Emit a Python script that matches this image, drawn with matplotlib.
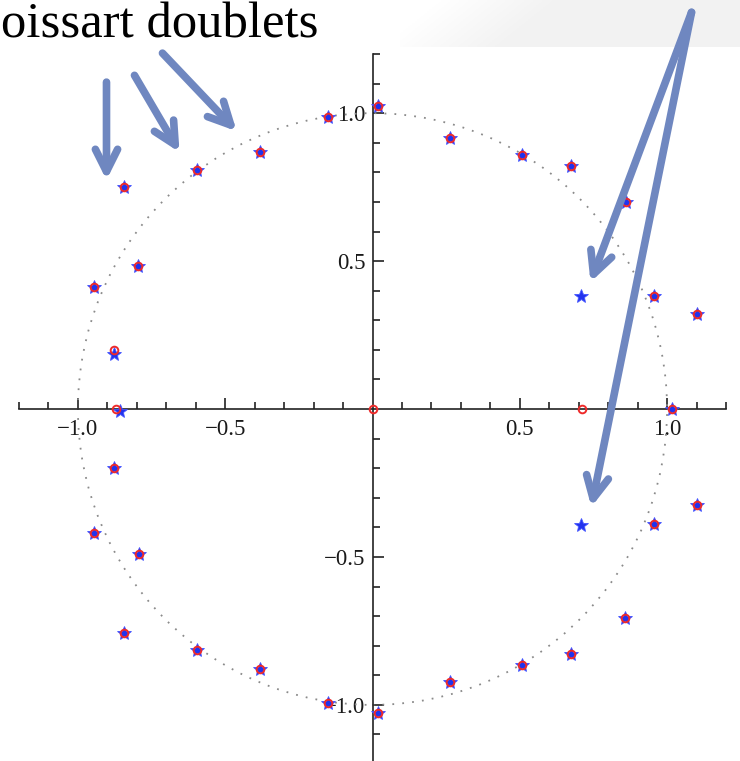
import numpy as np
import matplotlib
matplotlib.use("Agg")
import matplotlib.pyplot as plt
from matplotlib.patches import Circle
from matplotlib.ticker import FixedLocator, FixedFormatter


# blue stars
star_x = [0.019, 0.264, 0.508, 0.675, 0.859, 0.709, 0.954, 1.100, 1.015,
          -0.151, -0.383, -0.597, -0.845, -0.797, -0.947, -0.876, -0.856,
          -0.876, -0.947, -0.794, -0.845, -0.597, -0.383, -0.151,
          1.100, 0.709, 0.954, 0.856, 0.675, 0.508, 0.264, 0.019]
star_y = [1.024, 0.916, 0.858, 0.821, 0.700, 0.382, 0.382, 0.321, 0.000,
          0.986, 0.868, 0.807, 0.750, 0.483, 0.412, 0.186, -0.005,
          -0.200, -0.419, -0.490, -0.757, -0.814, -0.878, -0.993,
          -0.324, -0.392, -0.389, -0.706, -0.828, -0.865, -0.922, -1.027]

# red open circles
circle_x = [0.019, 0.264, 0.508, 0.675, 0.859, 0.954, 1.100, 1.015,
            -0.151, -0.383, -0.597, -0.845, -0.797, -0.947, -0.876, -0.872,
            -0.876, -0.947, -0.794, -0.845, -0.597, -0.383, -0.151,
            1.100, 0.954, 0.856, 0.675, 0.508, 0.264, 0.019,
            0.000, 0.712]
circle_y = [1.024, 0.916, 0.858, 0.821, 0.700, 0.382, 0.321, 0.000,
            0.986, 0.868, 0.807, 0.750, 0.483, 0.412, 0.199, 0.000,
            -0.200, -0.419, -0.490, -0.757, -0.814, -0.878, -0.993,
            -0.324, -0.389, -0.706, -0.828, -0.865, -0.922, -1.027,
            0.000, 0.000]

# arrows: tail -> head
arrow_tails = [(-0.903, 1.105), (-0.808, 1.128), (-0.713, 1.203),
               (1.083, 1.341), (1.083, 1.341)]
arrow_heads = [(-0.903, 0.774), (-0.655, 0.868), (-0.461, 0.939),
               (0.740, 0.429), (0.743, -0.331)]

major_ticks = [-1.0, -0.5, 0.5, 1.0]
major_labels = ["\u22121.0", "\u22120.5", "0.5", "1.0"]
minor_ticks = [-1.2, -1.1, -0.9, -0.8, -0.7, -0.6, -0.4, -0.3, -0.2, -0.1,
               0.1, 0.2, 0.3, 0.4, 0.6, 0.7, 0.8, 0.9, 1.1, 1.2]

title = "oissart doublets"

arrow_col = "#6f87c0"

fig = plt.figure(figsize=(7.4, 7.61), dpi=100)

# light grey banner top right
bg = fig.add_axes([400 / 740, 1 - 47 / 761, 340 / 740, 47 / 761])
gx, gy = np.meshgrid(np.linspace(0, 1, 200), np.linspace(0, 1, 20))
alpha = np.clip((gx * 340 - 40 + gy * 47 * 1.2) / 120, 0, 1)
img = np.zeros((20, 200, 4))
img[..., :3] = 0.95
img[..., 3] = alpha
bg.imshow(img, aspect="auto", extent=[0, 1, 0, 1], origin="upper")
bg.axis("off")

fig.text(0.002, 1 - 37 / 761, title, ha="left", va="baseline",
         fontsize=36.5, family="Liberation Serif")

ax = fig.add_axes([19 / 740, -0.004, 707 / 740, 0.933])
ax.set_xlim(-1.2, 1.2)
ax.set_ylim(-1.2, 1.2)
ax.patch.set_alpha(0)

for side in ["top", "right"]:
    ax.spines[side].set_visible(False)
for side in ["left", "bottom"]:
    ax.spines[side].set_position("zero")
    ax.spines[side].set_linewidth(1.2)
    ax.spines[side].set_color("#222222")

for axis in [ax.xaxis, ax.yaxis]:
    axis.set_major_locator(FixedLocator(major_ticks))
    axis.set_major_formatter(FixedFormatter(major_labels))
    axis.set_minor_locator(FixedLocator(minor_ticks))

ax.tick_params(which="both", direction="in", width=1.2, color="#222222",
               labelsize=16.5, labelfontfamily="Liberation Serif",
               labelcolor="#1a1a1a")
ax.tick_params(which="major", length=8)
ax.tick_params(which="minor", length=5)
ax.tick_params(axis="x", pad=7)
ax.tick_params(axis="y", pad=5)

ax.add_patch(Circle((0, 0), 1.0, fill=False, ls=(0, (1, 4.5)), lw=1.3,
                    color="#8a8a8a", zorder=2))

ax.plot(star_x, star_y, ls="none", marker="*", ms=10, color="#2233ee",
        mec="#4455ff", mew=0.6, zorder=3, clip_on=False)
ax.plot(circle_x, circle_y, ls="none", marker="o", ms=5.5, mfc="none",
        mec="#ee2a2a", mew=1.4, zorder=4, clip_on=False)

for tail, head in zip(arrow_tails, arrow_heads):
    ax.annotate("", xy=head, xytext=tail, annotation_clip=False,
                arrowprops=dict(arrowstyle="->,head_length=0.8,head_width=0.4",
                                lw=5.5, color=arrow_col, mutation_scale=20,
                                shrinkA=0, shrinkB=0),
                zorder=6)

fig.savefig("out.png", dpi=100)
